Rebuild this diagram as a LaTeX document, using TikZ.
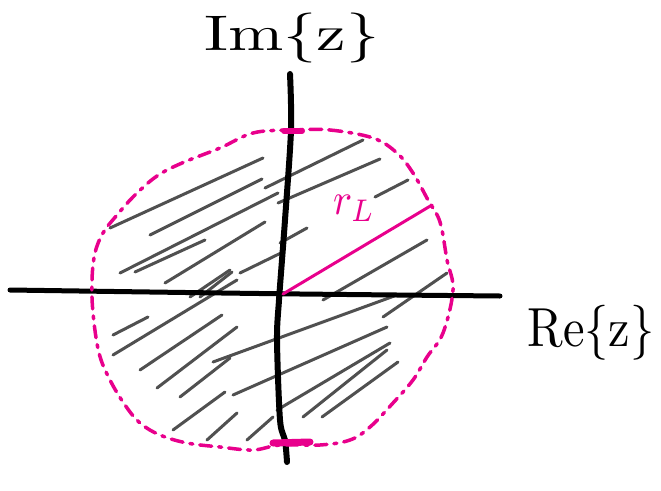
\documentclass[tikz,border=0pt]{standalone}
\usepackage{graphicx}
\definecolor{pinkm}{RGB}{232,0,140}
\definecolor{hatch}{RGB}{80,80,80}
\begin{document}
\begin{tikzpicture}[x=1pt,y=-1pt,
  axis/.style={line width=5pt,black,line cap=round,line join=round},
  hatchline/.style={line width=3pt,hatch,line cap=round},
  rim/.style={line width=3.5pt,pinkm,line cap=round,dash pattern=on 12pt off 7pt on 3pt off 7pt},
  pinktick/.style={line width=6pt,pinkm,line cap=round},
  radius/.style={line width=3pt,pinkm,line cap=round},
  lbl/.style={inner sep=0pt}]
\useasboundingbox (0,0) rectangle (661,490);
% hatching
\foreach \a/\b/\c/\d in {
 110/228/263/158, 150/235/262/179, 120/273/278/193, 135/272/205/240,
 265/188/363/140, 278/203/380/159, 375/197/408/180,
 165/283/265/222, 190/297/230/270, 200/297/232/272, 240/273/283/252, 280/243/307/228,
 323/300/427/240, 383/317/447/273,
 113/335/148/317, 113/355/237/280, 140/370/222/315, 157/388/237/327,
 180/397/230/358, 213/362/397/295, 233/395/387/327, 277/410/390/343,
 303/417/387/350, 322/417/398/362, 173/430/225/392, 207/440/237/413, 247/440/273/417}
 \draw[hatchline] (\a,\b) -- (\c,\d);
% axes
\draw[axis] plot[smooth] coordinates {(10,290) (150,292) (300,294) (500,296)};
\draw[axis,line width=6pt] plot[smooth] coordinates {(290,74) (291,130) (285,220) (279,300) (277,340) (280,420) (285,440) (287,462)};
% dashed circle
\draw[rim] plot[smooth cycle,tension=0.6] coordinates {
 (290,130) (330,130) (373,138) (397,153) (413,173) (428,200) (440,222) (447,260)
 (453,290) (443,333) (427,357) (413,380) (393,403) (370,427) (350,440) (320,445)
 (280,445) (253,450) (220,447) (187,443) (160,435) (140,423) (125,405) (110,380)
 (99,353) (93,313) (92,280) (95,253) (103,233) (117,215) (135,195) (157,176)
 (182,163) (220,148) (253,133)};
% ticks
\draw[pinktick] (284,131) -- (302,131);
\draw[pinktick,line width=7pt] (273,443) -- (310,442);
% radius
\coordinate (o) at (283,294);
\coordinate (rend) at (432,205);
\draw[radius] (o) -- (rend);
\node[lbl,text=pinkm] (rl) at (354,208) {\resizebox*{42pt}{26pt}{$r_L$}};
% axis labels
\node[lbl] (im) at (292,38) {\resizebox*{175pt}{50pt}{Im\{z\}}};
\node[lbl] (re) at (591,333) {\resizebox*{127pt}{55pt}{Re\{z\}}};
\end{tikzpicture}
\end{document}
